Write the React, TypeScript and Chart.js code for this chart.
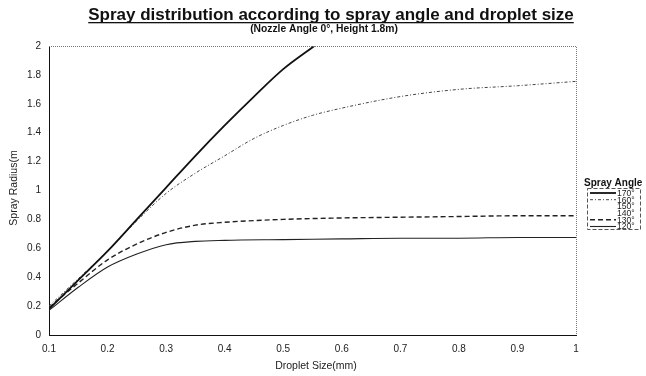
import React, { useEffect, useRef } from "react";
import { Chart, registerables } from "chart.js";

Chart.register(...registerables);

const FONT = "'Liberation Sans', Arial, sans-serif";

const titleText = "Spray distribution according to spray angle and droplet size";
const subtitleText = "(Nozzle Angle 0°, Height 1.8m)";
const xTitle = "Droplet Size(mm)";
const yTitle = "Spray Radius(m";
const legendTitle = "Spray Angle";

const xTicks = [0.1, 0.2, 0.3, 0.4, 0.5, 0.6, 0.7, 0.8, 0.9, 1];
const yTicks = [0, 0.2, 0.4, 0.6, 0.8, 1, 1.2, 1.4, 1.6, 1.8, 2];

const angles = ["170°", "160°", "150°", "140°", "130°", "120°"];

const x170 = [0.1, 0.15, 0.2, 0.25, 0.3, 0.35, 0.4, 0.45, 0.5, 0.553];
const y170 = [0.18, 0.38, 0.58, 0.8, 1.02, 1.24, 1.45, 1.65, 1.84, 2.0];

const x160 = [0.1, 0.15, 0.2, 0.25, 0.3, 0.35, 0.4, 0.45, 0.5, 0.55, 0.6, 0.7, 0.8, 0.9, 1.0];
const y160 = [0.2, 0.39, 0.58, 0.79, 0.98, 1.12, 1.24, 1.36, 1.45, 1.52, 1.57, 1.65, 1.7, 1.725, 1.755];

const x150: number[] = [];
const y150: number[] = [];
const x140: number[] = [];
const y140: number[] = [];

const x130 = [0.1, 0.15, 0.2, 0.25, 0.3, 0.35, 0.4, 0.5, 0.6, 0.7, 0.8, 0.9, 1.0];
const y130 = [0.19, 0.36, 0.52, 0.63, 0.71, 0.76, 0.78, 0.8, 0.81, 0.815, 0.82, 0.825, 0.825];

const x120 = [0.1, 0.15, 0.2, 0.25, 0.3, 0.35, 0.4, 0.5, 0.6, 0.7, 0.8, 0.9, 1.0];
const y120 = [0.17, 0.33, 0.47, 0.56, 0.625, 0.648, 0.655, 0.66, 0.665, 0.67, 0.67, 0.675, 0.675];

const pts = (xs: number[], ys: number[]) => xs.map((x, i) => ({ x, y: ys[i] }));

const decor = {
  id: "decor",
  afterDraw(chart: any) {
    const ctx = chart.ctx as CanvasRenderingContext2D;
    const { left, right, top, bottom } = chart.chartArea;
    ctx.save();

    // dotted top/right border
    ctx.strokeStyle = "#777";
    ctx.lineWidth = 1;
    ctx.setLineDash([1, 1]);
    ctx.beginPath();
    ctx.moveTo(left, top + 0.5);
    ctx.lineTo(right + 0.5, top + 0.5);
    ctx.lineTo(right + 0.5, bottom);
    ctx.stroke();
    ctx.setLineDash([]);

    // title
    ctx.fillStyle = "#111";
    ctx.textAlign = "center";
    ctx.textBaseline = "alphabetic";
    ctx.font = `bold 17px ${FONT}`;
    const tx = 331;
    const ty = 20;
    ctx.fillText(titleText, tx, ty);
    const tw = ctx.measureText(titleText).width;
    ctx.fillRect(tx - tw / 2, ty + 2, tw, 1.3);

    ctx.font = `bold 10.3px ${FONT}`;
    ctx.fillText(subtitleText, 324, 32);

    // axis titles
    ctx.font = `10.5px ${FONT}`;
    ctx.fillStyle = "#222";
    ctx.fillText(xTitle, 316, 369);
    ctx.save();
    ctx.translate(17, 188);
    ctx.rotate(-Math.PI / 2);
    ctx.fillText(yTitle, 0, 0);
    ctx.restore();

    // legend
    ctx.textAlign = "left";
    ctx.font = `bold 10px ${FONT}`;
    ctx.fillStyle = "#111";
    ctx.fillText(legendTitle, 584, 186);
    ctx.strokeStyle = "#555";
    ctx.setLineDash([4, 2]);
    ctx.strokeRect(587.5, 188.5, 53, 41);
    ctx.setLineDash([]);
    ctx.font = `8.6px ${FONT}`;
    chart.data.datasets.forEach((ds: any, i: number) => {
      const yy = 193 + i * 6.7;
      ctx.strokeStyle = ds.borderColor;
      ctx.lineWidth = ds.borderWidth;
      ctx.setLineDash(ds.borderDash || []);
      ctx.beginPath();
      ctx.moveTo(590, yy);
      ctx.lineTo(616, yy);
      ctx.stroke();
      ctx.setLineDash([]);
      ctx.fillStyle = "#222";
      ctx.textBaseline = "middle";
      ctx.fillText(ds.label, 617, yy + 0.5);
    });
    ctx.restore();
  },
};

export default function App() {
  const ref = useRef<HTMLCanvasElement | null>(null);
  useEffect(() => {
    document.body.style.margin = "0";
    const el = ref.current;
    if (!el) return;
    const datasets = [
      { label: angles[0], data: pts(x170, y170), borderColor: "#111", borderWidth: 1.8, borderDash: [] as number[] },
      { label: angles[1], data: pts(x160, y160), borderColor: "#444", borderWidth: 1, borderDash: [3, 2, 1, 2] },
      { label: angles[2], data: pts(x150, y150), borderColor: "rgba(0,0,0,0)", borderWidth: 1, borderDash: [] as number[] },
      { label: angles[3], data: pts(x140, y140), borderColor: "rgba(0,0,0,0)", borderWidth: 1, borderDash: [] as number[] },
      { label: angles[4], data: pts(x130, y130), borderColor: "#222", borderWidth: 1.4, borderDash: [5, 3] },
      { label: angles[5], data: pts(x120, y120), borderColor: "#222", borderWidth: 1.1, borderDash: [] as number[] },
    ].map((d) => ({
      ...d,
      pointRadius: 0,
      fill: false,
      tension: 0.4,
      cubicInterpolationMode: "monotone" as const,
    }));
    const chart = new Chart(el, {
      type: "line",
      data: { datasets },
      options: {
        animation: false,
        responsive: false,
        layout: { padding: { left: 0, right: 70, top: 46, bottom: 0 } },
        plugins: { legend: { display: false }, title: { display: false }, tooltip: { enabled: false } },
        scales: {
          x: {
            type: "linear",
            min: 0.1,
            max: 1,
            afterBuildTicks: (s: any) => {
              s.ticks = xTicks.map((v) => ({ value: v }));
            },
            afterFit: (s: any) => {
              s.height = 41;
            },
            grid: { display: false, drawTicks: false },
            border: { display: true, color: "#111", width: 1 },
            ticks: {
              color: "#222",
              font: { family: FONT, size: 10 },
              padding: 8,
              maxRotation: 0,
              autoSkip: false,
              callback: (v: any) => String(v),
            },
          },
          y: {
            type: "linear",
            min: 0,
            max: 2,
            afterBuildTicks: (s: any) => {
              s.ticks = yTicks.map((v) => ({ value: v }));
            },
            afterFit: (s: any) => {
              s.width = 49;
            },
            grid: { display: false, drawTicks: false },
            border: { display: true, color: "#111", width: 1 },
            ticks: {
              color: "#222",
              font: { family: FONT, size: 10 },
              padding: 8,
              autoSkip: false,
              callback: (v: any) => String(v),
            },
          },
        },
      },
      plugins: [decor],
    });
    return () => chart.destroy();
  }, []);
  return <canvas ref={ref} width={646} height={376} style={{ display: "block" }} />;
}
